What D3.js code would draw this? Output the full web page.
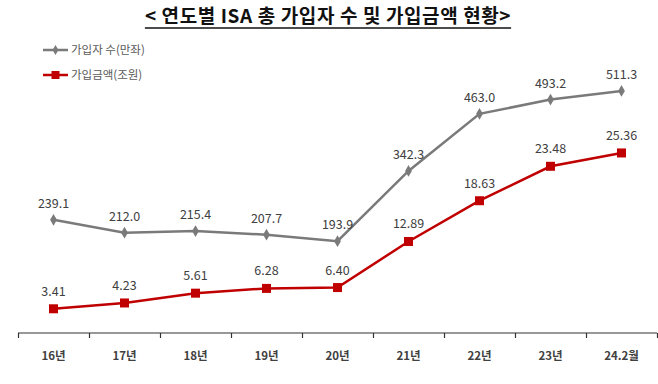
<!DOCTYPE html>
<html>
<head>
<meta charset="utf-8">
<script src="https://cdn.jsdelivr.net/npm/d3@7"></script>
<style>
  body { margin: 0; background: #fff; }
  svg { font-family: "Noto Sans CJK KR", "Noto Sans", sans-serif; }
</style>
</head>
<body>
<div id="chart-area"></div>
<script>
// data
var years = ["16년", "17년", "18년", "19년", "20년", "21년", "22년", "23년", "24.2월"];
var subscribers = [239.1, 212.0, 215.4, 207.7, 193.9, 342.3, 463.0, 493.2, 511.3];   // 만좌
var amounts = [3.41, 4.23, 5.61, 6.28, 6.40, 12.89, 18.63, 23.48, 25.36];            // 조원

var width = 658, height = 384;
var margin = { left: 18, right: 1, top: 49, bottom: 51 };
var axisY = height - margin.bottom;

var svg = d3.select("#chart-area")
    .append("svg")
        .attr("width", width)
        .attr("height", height);

var x = d3.scaleBand()
    .domain(years)
    .range([margin.left, width - margin.right]);

var ySub = d3.scaleLinear()
    .domain([0, 600])
    .range([axisY, margin.top]);

var yAmt = d3.scaleLinear()
    .domain([0, 40])
    .range([axisY, margin.top]);

var grey = "#7a7a7a", red = "#c00000";

// title
var title = svg.append("text")
    .attr("x", 328)
    .attr("y", 23)
    .attr("text-anchor", "middle")
    .attr("font-size", "19px")
    .attr("font-weight", "bold")
    .attr("letter-spacing", "0.6px")
    .attr("fill", "#111")
    .text("< 연도별 ISA 총 가입자 수 및 가입금액 현황>");
var tb = title.node().getBBox();
svg.append("line")
    .attr("x1", tb.x).attr("x2", tb.x + tb.width)
    .attr("y1", 28).attr("y2", 28)
    .attr("stroke", "#111").attr("stroke-width", 1.3);

// x axis
var xAxis = svg.append("g")
    .attr("transform", "translate(0," + axisY + ")");
xAxis.append("line")
    .attr("x1", margin.left).attr("x2", width - margin.right)
    .attr("stroke", "#333").attr("stroke-width", 1.2);
var edges = years.map(function(d){ return x(d); }).concat([x(years[years.length - 1]) + x.bandwidth()]);
xAxis.selectAll(".tick")
    .data(edges)
    .enter().append("line")
        .attr("x1", function(d){ return Math.round(d) + 0.5; })
        .attr("x2", function(d){ return Math.round(d) + 0.5; })
        .attr("y1", 0).attr("y2", 5)
        .attr("stroke", "#333").attr("stroke-width", 1.2);
xAxis.selectAll(".label")
    .data(years)
    .enter().append("text")
        .attr("x", function(d){ return x(d) + x.bandwidth() / 2; })
        .attr("y", 27)
        .attr("text-anchor", "middle")
        .attr("font-size", "11.5px")
        .attr("font-weight", "bold")
        .attr("fill", "#404040")
        .text(function(d){ return d; });

function cx(d, i){ return x(years[i]) + x.bandwidth() / 2; }

// subscribers line
svg.append("path")
    .datum(subscribers)
    .attr("fill", "none")
    .attr("stroke", grey)
    .attr("stroke-width", 2.5)
    .attr("d", d3.line().x(cx).y(function(d){ return ySub(d); }));
svg.selectAll(".sub-pt")
    .data(subscribers)
    .enter().append("path")
        .attr("d", d3.symbol(d3.symbolDiamond, 40))
        .attr("transform", function(d, i){ return "translate(" + cx(d, i) + "," + ySub(d) + ")"; })
        .attr("fill", grey);
svg.selectAll(".sub-lbl")
    .data(subscribers)
    .enter().append("text")
        .attr("x", cx)
        .attr("y", function(d){ return ySub(d) - 12; })
        .attr("text-anchor", "middle")
        .attr("font-size", "12.5px")
        .attr("fill", "#404040")
        .text(function(d){ return d.toFixed(1); });

// amount line
svg.append("path")
    .datum(amounts)
    .attr("fill", "none")
    .attr("stroke", red)
    .attr("stroke-width", 2.5)
    .attr("d", d3.line().x(cx).y(function(d){ return yAmt(d); }));
svg.selectAll(".amt-pt")
    .data(amounts)
    .enter().append("rect")
        .attr("x", function(d, i){ return cx(d, i) - 4.5; })
        .attr("y", function(d){ return yAmt(d) - 4.5; })
        .attr("width", 9).attr("height", 9)
        .attr("fill", red);
svg.selectAll(".amt-lbl")
    .data(amounts)
    .enter().append("text")
        .attr("x", cx)
        .attr("y", function(d){ return yAmt(d) - 13; })
        .attr("text-anchor", "middle")
        .attr("font-size", "12.5px")
        .attr("fill", "#404040")
        .text(function(d){ return d.toFixed(2); });

// legend
var legendItems = [
    { name: "가입자 수(만좌)", color: grey, shape: "diamond" },
    { name: "가입금액(조원)", color: red, shape: "square" }
];
var legend = svg.append("g").attr("transform", "translate(43,50)");
legendItems.forEach(function(item, i){
    var row = legend.append("g").attr("transform", "translate(0," + (i * 25) + ")");
    row.append("line")
        .attr("x1", 0).attr("x2", 25)
        .attr("stroke", item.color).attr("stroke-width", 2.5);
    if (item.shape === "diamond") {
        row.append("path")
            .attr("d", d3.symbol(d3.symbolDiamond, 30))
            .attr("transform", "translate(12.5,0)")
            .attr("fill", item.color);
    } else {
        row.append("rect")
            .attr("x", 8.5).attr("y", -4)
            .attr("width", 8).attr("height", 8)
            .attr("fill", item.color);
    }
    row.append("text")
        .attr("x", 28)
        .attr("y", 4)
        .attr("font-size", "11.5px")
        .attr("fill", "#595959")
        .text(item.name);
});
</script>
</body>
</html>
